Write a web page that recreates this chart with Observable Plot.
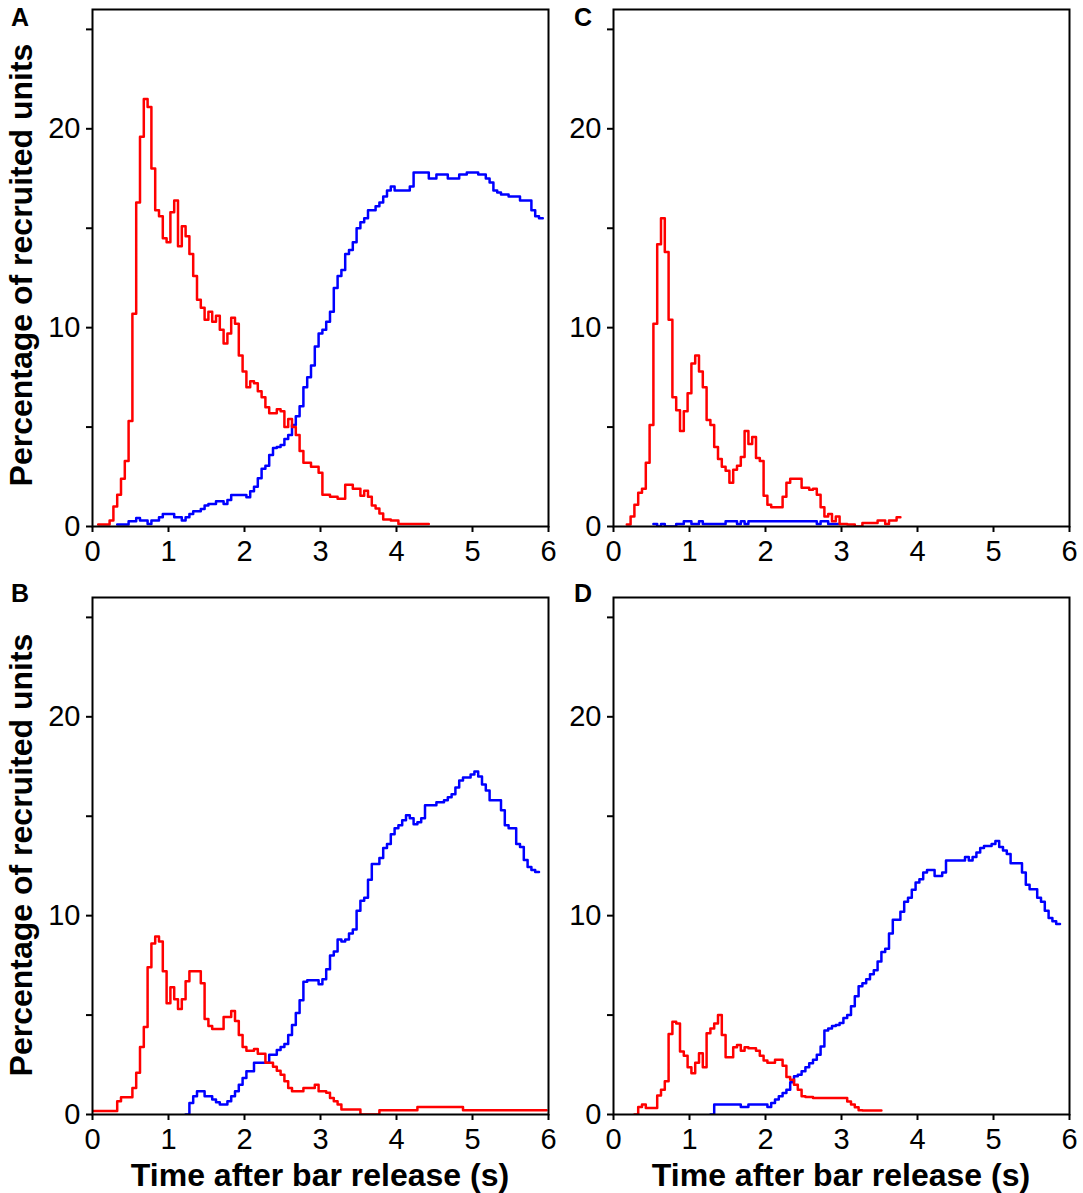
<!DOCTYPE html>
<html>
<head>
<meta charset="utf-8">
<script src="https://cdn.jsdelivr.net/npm/d3@7"></script>
<script src="https://cdn.jsdelivr.net/npm/@observablehq/plot@0.6"></script>
<style>
  html, body { margin: 0; padding: 0; background: #fff; }
  #wrap { position: relative; width: 1083px; height: 1193px; background: #fff; font-family: "Liberation Sans", Arial, sans-serif; color: #000; overflow: hidden; }
  .panel { position: absolute; }
  .letter { position: absolute; font-weight: bold; font-size: 25px; line-height: 25px; }
  .ytitle { position: absolute; font-weight: bold; font-size: 32px; line-height: 32px; white-space: nowrap; transform: translate(-50%, -50%) rotate(-90deg); }
  .xtitle { position: absolute; font-weight: bold; font-size: 32px; line-height: 32px; white-space: nowrap; transform: translateX(-50%); }
</style>
</head>
<body>
<div id="wrap"></div>
<script>
// ---- Data: percentage of recruited units per 0.05 s bin (bin centres start at the given time) ----
const binWidth = 0.05;
const xTicks = [0, 1, 2, 3, 4, 5, 6];
const yTicks = [0, 5, 10, 15, 20, 25];
const yTickLabels = [0, 10, 20];

const redAStart = 0.10;
const redA = [0.1,0.1,0.1,0.3,1.0,1.6,2.4,3.3,5.3,10.7,16.3,19.6,21.5,21.1,18.0,15.9,15.6,14.5,14.3,15.8,16.4,14.1,15.1,14.6,13.7,12.6,11.4,11.0,10.4,10.8,10.3,10.6,9.9,9.2,9.7,10.5,10.2,8.6,7.8,7.0,7.3,7.2,6.8,6.5,6.0,5.7,5.7,5.9,5.8,5.0,5.4,5.0,4.6,3.8,3.2,3.2,3.0,3.0,2.7,1.6,1.6,1.5,1.5,1.4,1.4,2.1,2.1,1.9,1.9,1.55,1.8,1.5,1.05,0.9,0.65,0.35,0.35,0.3,0.3,0.13,0.13,0.13,0.13,0.13,0.13,0.13,0.13];

const blueAStart = 0.35;
const blueA = [0.1,0.1,0.1,0.27,0.27,0.43,0.3,0.3,0.13,0.3,0.3,0.47,0.63,0.63,0.63,0.47,0.47,0.3,0.47,0.63,0.77,0.77,0.88,1.05,1.13,1.13,1.27,1.27,1.13,1.33,1.58,1.58,1.58,1.58,1.47,1.77,2.0,2.43,2.9,3.05,3.6,3.95,4.0,4.1,4.4,4.6,5.1,5.55,6.05,7.0,7.5,8.1,9.05,9.7,9.9,10.3,10.8,12.0,12.6,12.9,13.7,13.9,14.3,15.0,15.3,15.5,15.9,15.9,16.1,16.3,16.6,16.9,17.1,16.9,16.9,16.9,16.9,17.1,17.8,17.8,17.8,17.8,17.5,17.5,17.7,17.7,17.7,17.5,17.5,17.5,17.7,17.7,17.8,17.8,17.8,17.7,17.7,17.5,17.3,16.9,16.8,16.7,16.7,16.6,16.6,16.6,16.4,16.4,16.4,15.9,15.6,15.5];

const redCStart = 0.20;
const redC = [0.1,0.5,1.1,1.7,1.9,3.2,5.1,10.2,14.2,15.5,13.8,10.4,6.5,5.85,4.8,5.8,6.7,8.2,8.6,7.8,7.0,5.35,5.1,4.0,3.4,3.0,2.8,2.2,2.85,3.05,3.5,4.8,4.15,4.5,3.45,3.3,1.55,1.1,0.97,0.97,0.97,1.5,2.2,2.4,2.4,2.4,1.95,1.95,1.85,1.9,1.6,0.97,0.5,0.63,0.27,0.5,0.13,0.13,0.1,0.1,0,0,0.17,0.17,0.17,0.17,0.3,0.3,0.13,0.3,0.3,0.47];

const blueCStart = 0.55;
const blueC = [0.13,0,0.13,0,0,0,0.13,0.13,0.27,0.27,0.13,0.13,0.27,0.13,0.13,0.13,0.13,0.13,0.13,0.27,0.27,0.27,0.13,0.27,0.13,0.27,0.27,0.27,0.27,0.27,0.27,0.27,0.27,0.27,0.27,0.27,0.27,0.27,0.27,0.27,0.27,0.27,0.27,0.13,0.27,0.27,0.13,0.13,0.13];

const redBStart = 0.00;
const redB = [0.17,0.17,0.17,0.17,0.17,0.17,0.17,0.67,0.87,0.87,0.87,1.33,2.1,3.4,4.4,7.4,8.6,8.95,8.7,7.2,5.6,6.4,5.8,5.3,5.8,6.7,7.2,7.2,7.2,6.6,4.8,4.45,4.3,4.3,4.3,4.9,4.9,5.2,4.7,4.0,3.4,3.2,3.2,3.3,3.05,3.05,2.6,2.6,2.4,2.2,2.0,1.67,1.33,1.17,1.17,1.17,1.33,1.33,1.33,1.5,1.17,1.17,1.1,0.83,0.67,0.5,0.25,0.25,0.25,0.25,0.25,0,0,0,0,0,0.22,0.22,0.22,0.22,0.22,0.22,0.22,0.22,0.22,0.22,0.38,0.38,0.38,0.38,0.38,0.38,0.38,0.38,0.38,0.38,0.38,0.38,0.22,0.22,0.22,0.22,0.22,0.22,0.22,0.22,0.22,0.22,0.22,0.22,0.22,0.22,0.22,0.22,0.22,0.22,0.22,0.22,0.22,0.22];

const blueBStart = 1.25;
const blueB = [0,0.58,0.92,1.17,1.17,0.92,0.92,0.75,0.62,0.5,0.5,0.67,0.92,1.17,1.5,1.83,2.17,2.17,2.6,2.6,2.6,2.6,3.0,3.0,3.25,3.4,3.55,4.0,4.5,5.1,5.75,6.67,6.75,6.75,6.75,6.55,6.8,7.3,8.0,8.2,8.8,8.7,8.8,9.1,9.3,10.25,10.75,10.9,11.8,12.6,12.6,12.9,13.4,13.6,14.1,14.4,14.55,14.8,15.05,14.9,14.6,14.7,14.9,15.55,15.55,15.55,15.7,15.7,15.8,15.95,16.1,16.45,16.8,16.95,16.95,17.1,17.25,17.0,16.6,16.3,15.8,15.8,15.8,15.3,14.55,14.4,14.4,13.6,13.45,12.8,12.45,12.3,12.2];

const redDStart = 0.30;
const redD = [0,0.38,0.5,0.33,0.33,0.33,0.95,1.25,1.67,4.05,4.67,4.58,3.17,2.95,2.38,2.08,2.6,3.08,2.38,4.08,4.33,4.58,5.0,4.0,2.88,2.88,3.38,3.5,3.2,3.38,3.33,3.33,3.2,2.95,2.72,2.6,2.6,2.75,2.75,2.45,1.88,1.75,1.5,1.25,0.92,0.88,0.88,0.83,0.83,0.83,0.83,0.83,0.83,0.83,0.83,0.83,0.65,0.5,0.36,0.22,0.2,0.2,0.2,0.2,0.2];

const blueDStart = 1.30;
const blueD = [0,0.5,0.5,0.5,0.5,0.5,0.5,0.5,0.38,0.38,0.5,0.5,0.5,0.5,0.5,0.38,0.58,0.75,0.92,1.08,1.25,1.62,1.92,2.0,2.17,2.38,2.58,2.75,3.0,3.42,4.22,4.33,4.45,4.5,4.6,4.85,5.0,5.45,5.95,6.45,6.6,6.8,7.05,7.25,7.7,8.17,8.33,9.1,9.8,9.8,10.2,10.7,10.9,11.3,11.67,11.83,12.17,12.3,12.3,12.0,12.0,12.17,12.78,12.78,12.78,12.78,12.78,12.95,12.78,12.95,13.17,13.4,13.5,13.5,13.6,13.75,13.45,13.28,13.1,12.63,12.63,12.63,12.17,11.55,11.33,11.33,10.9,10.7,10.25,9.88,9.72,9.58];

// ---- build step outlines (bin edges) from bin centres ----
function steps(start, values) {
  const pts = values.map((v, i) => ({t: start + i * binWidth - binWidth / 2, v}));
  pts.push({t: start + values.length * binWidth - binWidth / 2, v: values[values.length - 1]});
  return pts;
}

const FONT = '"Liberation Sans", Arial, Helvetica, sans-serif';
const RED = "#ff0000";
const BLUE = "#0000ff";

const panels = [
  {letter: "A", red: steps(redAStart, redA), blue: steps(blueAStart, blueA), left: 0,   top: 0},
  {letter: "C", red: steps(redCStart, redC), blue: steps(blueCStart, blueC), left: 521, top: 0},
  {letter: "B", red: steps(redBStart, redB), blue: steps(blueBStart, blueB), left: 0,   top: 588},
  {letter: "D", red: steps(redDStart, redD), blue: steps(blueDStart, blueD), left: 521, top: 588}
];

const wrap = document.getElementById("wrap");

for (const p of panels) {
  const chart = Plot.plot({
    width: 560,
    height: 570,
    marginLeft: 92,
    marginRight: 12,
    marginTop: 9,
    marginBottom: 44,
    style: {background: "transparent", color: "#000", fontFamily: FONT, overflow: "visible"},
    x: {domain: [0, 6]},
    y: {domain: [0, 26]},
    marks: [
      Plot.line(p.blue, {x: "t", y: "v", curve: "step-after", stroke: BLUE, strokeWidth: 2.5, clip: true}),
      Plot.line(p.red, {x: "t", y: "v", curve: "step-after", stroke: RED, strokeWidth: 2.5, clip: true}),
      Plot.axisX({ticks: xTicks, tickSize: 6, tickPadding: 8, strokeWidth: 2, fontSize: 29, label: null, tickFormat: d => String(d)}),
      Plot.axisY({ticks: yTicks, tickSize: 6, tickPadding: 6, strokeWidth: 2, fontSize: 29, label: null,
                  tickFormat: d => (yTickLabels.includes(d) ? String(d) : "")}),
      Plot.frame({stroke: "#000", strokeWidth: 2})
    ]
  });
  const holder = document.createElement("div");
  holder.className = "panel";
  holder.style.left = p.left + "px";
  holder.style.top = p.top + "px";
  holder.appendChild(chart);
  wrap.appendChild(holder);

  const L = document.createElement("div");
  L.className = "letter";
  L.textContent = p.letter;
  L.style.left = (p.left === 0 ? 11 : 574) + "px";
  L.style.top = (p.top === 0 ? 5 : 581) + "px";
  wrap.appendChild(L);
}

// axis titles
for (const cy of [265, 855]) {
  const t = document.createElement("div");
  t.className = "ytitle";
  t.textContent = "Percentage of recruited units";
  t.style.left = "21px";
  t.style.top = cy + "px";
  wrap.appendChild(t);
}
for (const cx of [320, 841]) {
  const t = document.createElement("div");
  t.className = "xtitle";
  t.textContent = "Time after bar release (s)";
  t.style.left = cx + "px";
  t.style.top = "1159px";
  wrap.appendChild(t);
}
</script>
</body>
</html>
